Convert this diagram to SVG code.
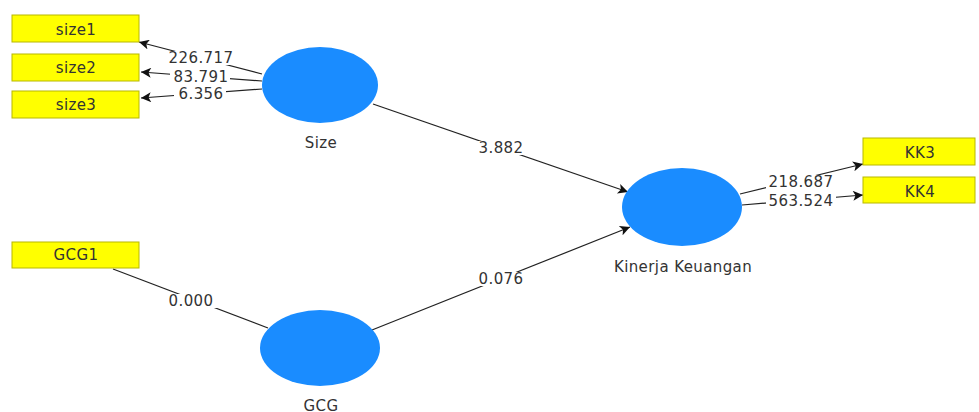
<svg xmlns="http://www.w3.org/2000/svg" width="979" height="412" viewBox="0 0 979 412">
<style>
.box{fill:#ffff00;stroke:#b8b800;stroke-width:1}
.lv{fill:#1a8cff}
.t{font-family:"DejaVu Sans","Noto Sans",sans-serif;font-size:15px;letter-spacing:0.4px;fill:#333;text-anchor:middle}
.bg{fill:#fff}
.ln{stroke:#222;stroke-width:1.2;fill:none}
</style>
<defs>
<marker id="ar" viewBox="0 0 10 10" refX="10" refY="5" markerWidth="12" markerHeight="10" markerUnits="userSpaceOnUse" orient="auto">
<path d="M0,0 L10,5 L0,10 L2.5,5 Z" fill="#111"/>
</marker>
</defs>
<rect width="979" height="412" fill="#fff"/>
<g id="connectors">
<line class="ln" x1="262" y1="74" x2="139" y2="42" marker-end="url(#ar)"/>
<line class="ln" x1="262" y1="81" x2="141" y2="72" marker-end="url(#ar)"/>
<line class="ln" x1="262" y1="89" x2="141" y2="98" marker-end="url(#ar)"/>
<line class="ln" x1="373" y1="104" x2="628" y2="192" marker-end="url(#ar)"/>
<line class="ln" x1="372" y1="330" x2="630" y2="227" marker-end="url(#ar)"/>
<line class="ln" x1="113" y1="269" x2="268" y2="328"/>
<line class="ln" x1="740" y1="194" x2="863" y2="164" marker-end="url(#ar)"/>
<line class="ln" x1="742" y1="205" x2="863" y2="195" marker-end="url(#ar)"/>
<rect class="bg" x="166" y="51" width="68" height="14"/>
<rect class="bg" x="170" y="70" width="60" height="14"/>
<rect class="bg" x="174" y="87" width="52" height="14"/>
<rect class="bg" x="474" y="141" width="54" height="14"/>
<rect class="bg" x="474" y="272" width="54" height="14"/>
<rect class="bg" x="164" y="294" width="54" height="14"/>
<rect class="bg" x="766" y="175" width="70" height="14"/>
<rect class="bg" x="766" y="194" width="70" height="14"/>
<text class="t" x="201" y="63">226.717</text>
<text class="t" x="201" y="82">83.791</text>
<text class="t" x="201" y="99">6.356</text>
<text class="t" x="501" y="153">3.882</text>
<text class="t" x="501" y="284">0.076</text>
<text class="t" x="191" y="306">0.000</text>
<text class="t" x="801" y="187">218.687</text>
<text class="t" x="801" y="206">563.524</text>
</g>
<g id="size1"><rect class="box" x="12" y="15" width="127" height="27"/><text class="t" x="76" y="35">size1</text></g>
<g id="size2"><rect class="box" x="12" y="54" width="127" height="27"/><text class="t" x="76" y="73">size2</text></g>
<g id="size3"><rect class="box" x="12" y="91" width="127" height="27"/><text class="t" x="76" y="110">size3</text></g>
<g id="GCG1"><rect class="box" x="12" y="242" width="127" height="26"/><text class="t" x="76" y="260">GCG1</text></g>
<g id="KK3"><rect class="box" x="863" y="138" width="112" height="27"/><text class="t" x="920" y="158">KK3</text></g>
<g id="KK4"><rect class="box" x="863" y="177" width="112" height="26"/><text class="t" x="920" y="197">KK4</text></g>
<g id="Size"><ellipse class="lv" cx="320" cy="85" rx="58" ry="38"/><text class="t" x="321" y="148">Size</text></g>
<g id="GCG"><ellipse class="lv" cx="320" cy="348" rx="60" ry="38"/><text class="t" x="321" y="411">GCG</text></g>
<g id="KinerjaKeuangan"><ellipse class="lv" cx="682" cy="207" rx="60" ry="39"/><text class="t" x="683" y="272">Kinerja Keuangan</text></g>
</svg>
